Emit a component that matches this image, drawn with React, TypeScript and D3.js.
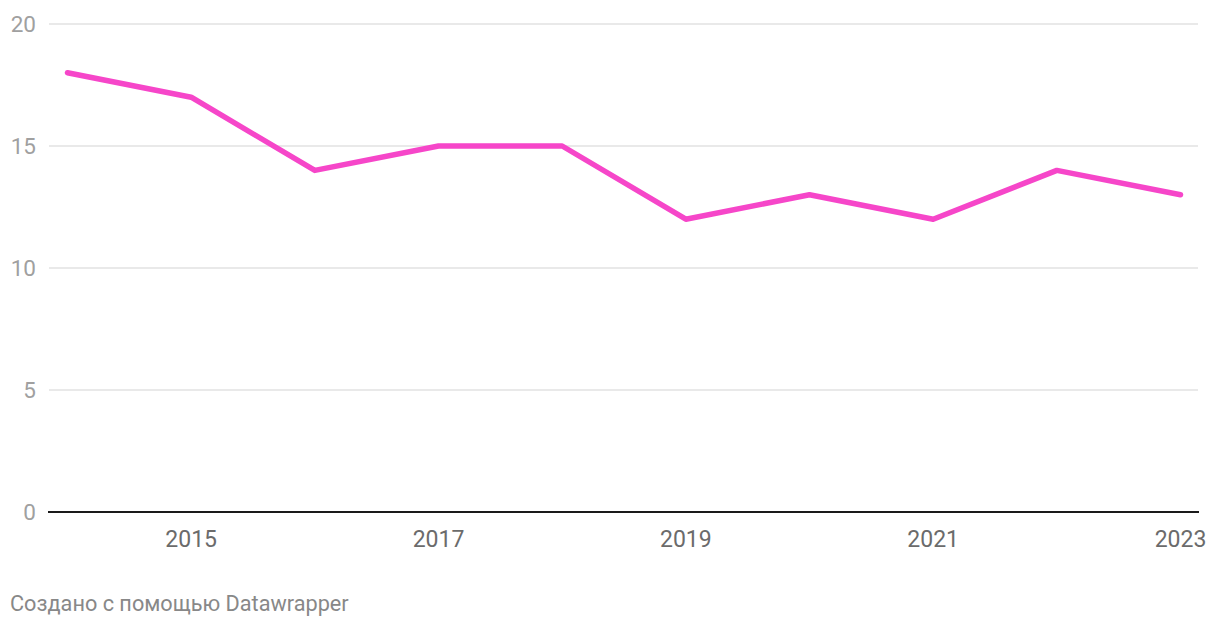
import React from "react";
import * as d3 from "d3";

const years = [2014, 2015, 2016, 2017, 2018, 2019, 2020, 2021, 2022, 2023];
const values = [18, 17, 14, 15, 15, 12, 13, 12, 14, 13];
const yTicks = [0, 5, 10, 15, 20];
const xTicks = [2015, 2017, 2019, 2021, 2023];
const footer = "Создано с помощью Datawrapper";

export default function App() {
  const W = 1220, H = 628;
  const x = d3.scaleLinear().domain([2014, 2023]).range([67.5, 1180.5]);
  const y = d3.scaleLinear().domain([0, 20]).range([512, 24]);
  const line = d3.line<number>().x((_, i) => x(years[i])).y((v) => y(v));
  const font = "Roboto, 'Noto Sans', sans-serif";
  return (
    <svg width={W} height={H} style={{ position: "absolute", left: 0, top: 0, background: "#fff" }}>
      {yTicks.map((t) => (
        <g key={t}>
          {t !== 0 && <line x1={49} x2={1198} y1={y(t)} y2={y(t)} stroke="#e2e2e2" strokeWidth={1.3} />}
          <text x={36} y={y(t) + 7.5} textAnchor="end" fontFamily={font} fontSize={22.5} fill="#a0a0a0">{t}</text>
        </g>
      ))}
      <line x1={48} x2={1199} y1={y(0)} y2={y(0)} stroke="#1a1a1a" strokeWidth={2} />
      {xTicks.map((t) => (
        <text key={t} x={x(t)} y={547} textAnchor="middle" fontFamily={font} fontSize={23} fill="#6b6b6b">{t}</text>
      ))}
      <path d={line(values) || ""} fill="none" stroke="#f646c9" strokeWidth={5.5} strokeLinejoin="round" strokeLinecap="round" />
      <text x={10} y={611} fontFamily={font} fontSize={21.7} fill="#888">{footer}</text>
    </svg>
  );
}
